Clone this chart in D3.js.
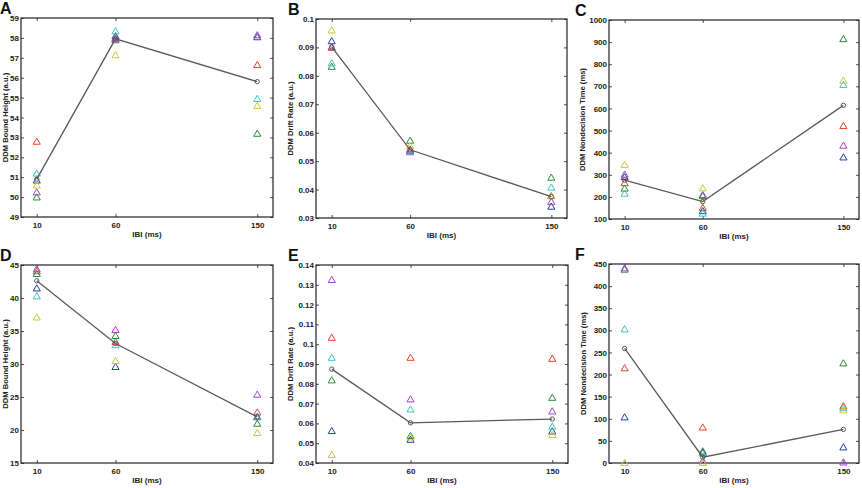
<!DOCTYPE html>
<html>
<head>
<meta charset="utf-8">
<script src="https://cdn.jsdelivr.net/npm/d3@7"></script>
<style>
  html, body { margin: 0; padding: 0; background: #fff; }
  svg { display: block; font-family: "Liberation Sans", Arial, sans-serif; }
</style>
</head>
<body>
<svg id="chart" width="862" height="488"></svg>
<script>
/* ── DATA ─────────────────────────────────────── */
const ibi = [10, 60, 150];
const subjectColors = ['#e8432c', '#2b8a3c', '#2143a3', '#3ec3c3', '#a443c4', '#c9c93a'];

// rows: red, green, blue, cyan, magenta, yellow
const boundA = [[52.8, 58.0, 56.65], [50.0, 57.9, 53.2], [50.85, 58.1, 58.05],
                [51.2, 58.35, 54.95], [50.25, 57.95, 58.15], [50.6, 57.15, 54.6]];
const boundAMean = [50.9, 57.95, 55.8];

const driftB = [[0.0900, 0.0542, 0.0378], [0.0833, 0.0573, 0.0443], [0.0923, 0.0535, 0.0341],
                [0.0845, 0.0532, 0.0408], [0.0902, 0.0538, 0.0358], [0.0961, 0.0554, 0.0379]];
const driftBMean = [0.0902, 0.054, 0.0375];

const ndtC = [[264, 152, 522], [239, 205, 915], [291, 137, 380],
              [216, 126, 708], [302, 210, 433], [346, 240, 727]];
const ndtCMean = [276, 179, 614];

const boundD = [[44.1, 33.4, 22.7], [43.7, 34.3, 21.0], [41.5, 29.6, 22.0],
                [40.3, 32.9, 22.1], [44.4, 35.2, 25.4], [37.1, 30.5, 19.6]];
const boundDMean = [42.6, 33.1, 22.0];

const driftE = [[0.1034, 0.0933, 0.0928], [0.0819, 0.0538, 0.0731], [0.0563, 0.0519, 0.0561],
                [0.0933, 0.0672, 0.0585], [0.1326, 0.0723, 0.0662], [0.0442, 0.0531, 0.0543]];
const driftEMean = [0.0874, 0.0603, 0.0622];

const ndtF = [[215, 81, 129], [438, 27, 226], [104, 24, 36],
              [303, 22, 125], [441, 5, 2], [1, 1, 120]];
const ndtFMean = [259, 13, 76];

const ticksBound1 = [49, 50, 51, 52, 53, 54, 55, 56, 57, 58, 59];
const ticksDrift1 = [0.03, 0.04, 0.05, 0.06, 0.07, 0.08, 0.09, 0.1];
const ticksNdt1   = [100, 200, 300, 400, 500, 600, 700, 800, 900, 1000];
const ticksBound2 = [15, 20, 25, 30, 35, 40, 45];
const ticksDrift2 = [0.04, 0.05, 0.06, 0.07, 0.08, 0.09, 0.1, 0.11, 0.12, 0.13, 0.14];
const ticksNdt2   = [0, 50, 100, 150, 200, 250, 300, 350, 400, 450];

/* ── PANELS ───────────────────────────────────── */
const panels = [
  { letter: 'A', box: [21, 273, 18, 217],  lx: 0,   ylab: 'DDM Bound Height (a.u.)',   labX: 5,   subj: boundA, mean: boundAMean, ticks: ticksBound1 },
  { letter: 'B', box: [316, 567, 19, 218], lx: 288, ylab: 'DDM Drift Rate (a.u.)',     labX: 290, subj: driftB, mean: driftBMean, ticks: ticksDrift1 },
  { letter: 'C', box: [609, 859, 20, 219], lx: 575, ylab: 'DDM Nondecision Time (ms)', labX: 582, subj: ndtC,   mean: ndtCMean,   ticks: ticksNdt1 },
  { letter: 'D', box: [21, 273, 265, 463], lx: 0,   ylab: 'DDM Bound Height (a.u.)',   labX: 5,   subj: boundD, mean: boundDMean, ticks: ticksBound2 },
  { letter: 'E', box: [316, 568, 265, 463], lx: 288, ylab: 'DDM Drift Rate (a.u.)',    labX: 290, subj: driftE, mean: driftEMean, ticks: ticksDrift2 },
  { letter: 'F', box: [609, 859, 264, 463], lx: 575, ylab: 'DDM Nondecision Time (ms)', labX: 583, subj: ndtF,  mean: ndtFMean,   ticks: ticksNdt2 }
];

const svg = d3.select('#chart');
const ink = '#222';
const tri = d3.symbol().type(d3.symbolTriangle).size(22);
const fmt = v => String(+v.toFixed(3));

panels.forEach(p => {
  const [x0, x1, y0, y1] = p.box;
  const x = d3.scaleLinear().domain([0, 160]).range([x0, x1]);
  const y = d3.scaleLinear().domain(d3.extent(p.ticks)).range([y1, y0]);
  const g = svg.append('g');

  // axes with inward ticks, mirrored on top/right like a MATLAB box
  const axL = g.append('g').attr('transform', `translate(${x0},0)`)
    .call(d3.axisLeft(y).tickValues(p.ticks).tickFormat(fmt).tickSizeInner(-3).tickSizeOuter(0).tickPadding(2));
  const axB = g.append('g').attr('transform', `translate(0,${y1})`)
    .call(d3.axisBottom(x).tickValues(ibi).tickSizeInner(-3).tickSizeOuter(0).tickPadding(5));
  const axR = g.append('g').attr('transform', `translate(${x1},0)`)
    .call(d3.axisRight(y).tickValues(p.ticks).tickFormat('').tickSizeInner(-3).tickSizeOuter(0));
  const axT = g.append('g').attr('transform', `translate(0,${y0})`)
    .call(d3.axisTop(x).tickValues(ibi).tickFormat('').tickSizeInner(-3).tickSizeOuter(0));
  [axL, axB, axR, axT].forEach(a => {
    a.select('.domain').remove();
    a.selectAll('line').attr('stroke', ink).attr('stroke-width', 0.8);
    a.selectAll('text').attr('fill', ink).attr('font-size', 8).attr('font-weight', 'bold');
  });

  g.append('rect').attr('x', x0).attr('y', y0).attr('width', x1 - x0).attr('height', y1 - y0)
    .attr('fill', 'none').attr('stroke', ink).attr('stroke-width', 1.2);

  // subject triangles
  p.subj.forEach((row, i) => {
    g.selectAll(null).data(row).enter().append('path')
      .attr('d', tri)
      .attr('transform', (d, j) => `translate(${x(ibi[j])},${y(d) + 0.8})`)
      .attr('fill', 'none').attr('stroke', subjectColors[i]).attr('stroke-width', 1);
  });

  // mean line
  const line = d3.line().x((d, j) => x(ibi[j])).y(d => y(d));
  g.append('path').datum(p.mean).attr('d', line)
    .attr('fill', 'none').attr('stroke', '#5a5a5a').attr('stroke-width', 1.3);
  g.selectAll(null).data(p.mean).enter().append('circle')
    .attr('cx', (d, j) => x(ibi[j])).attr('cy', d => y(d)).attr('r', 2.2)
    .attr('fill', 'none').attr('stroke', '#5a5a5a').attr('stroke-width', 1);

  // labels
  g.append('text').attr('x', (x0 + x1) / 2).attr('y', y1 + 20)
    .attr('text-anchor', 'middle').attr('font-size', 8).attr('font-weight', 'bold')
    .attr('fill', ink).text('IBI (ms)');
  g.append('text')
    .attr('transform', `translate(${p.labX},${(y0 + y1) / 2}) rotate(-90)`)
    .attr('text-anchor', 'middle').attr('dy', '0.35em')
    .attr('font-size', 7.6).attr('font-weight', 'bold').attr('fill', ink).text(p.ylab);
  g.append('text').attr('x', p.lx).attr('y', y0 - 4)
    .attr('font-size', 16).attr('font-weight', 'bold').attr('fill', '#111').text(p.letter);
});
</script>
</body>
</html>
